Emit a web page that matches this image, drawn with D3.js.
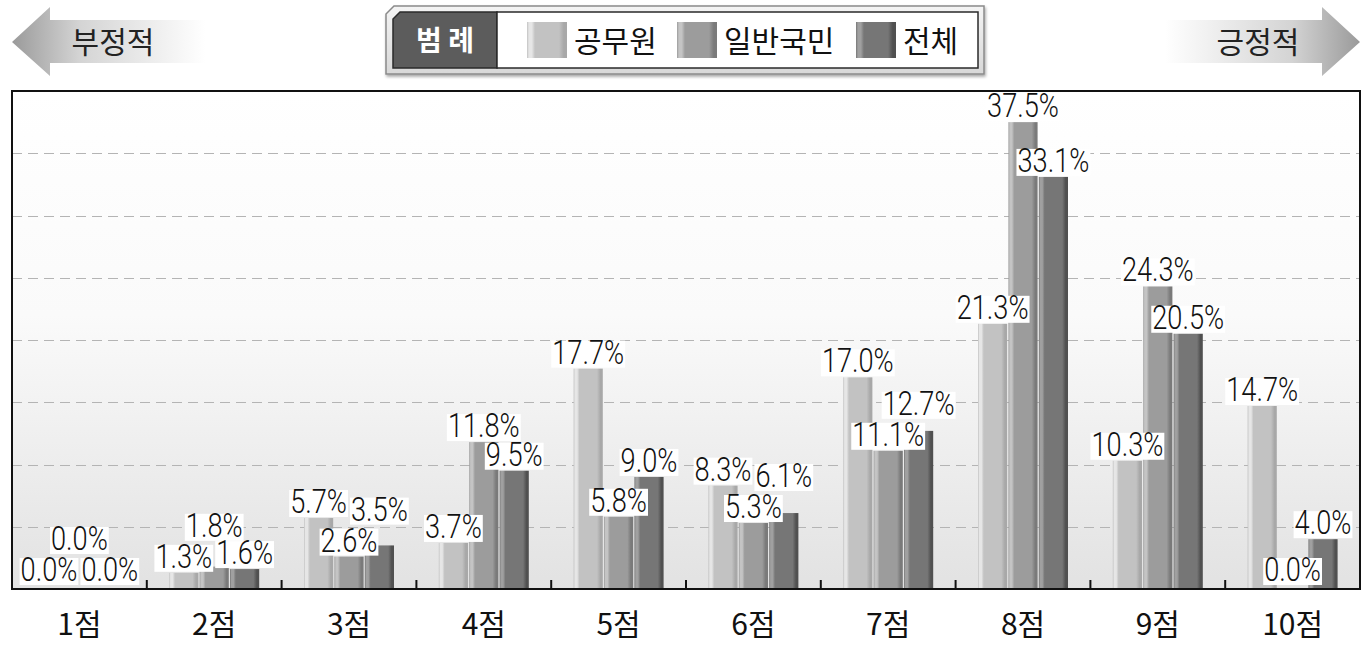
<!DOCTYPE html>
<html><head><meta charset="utf-8">
<script src="https://cdn.jsdelivr.net/npm/d3@7"></script>
<style>body{margin:0;background:#fff}svg{display:block}</style>
</head><body><svg id="c" width="1370" height="650"></svg>
<script>
const categories = ["1점","2점","3점","4점","5점","6점","7점","8점","9점","10점"];
const seriesNames = ["공무원","일반국민","전체"];
const civilServant = [0.0,1.3,5.7,3.7,17.7,8.3,17.0,21.3,10.3,14.7];
const generalPublic = [0.0,1.8,2.6,11.8,5.8,5.3,11.1,37.5,24.3,0.0];
const total = [0.0,1.6,3.5,9.5,9.0,6.1,12.7,33.1,20.5,4.0];
const yTicks = [0,5,10,15,20,25,30,35,40];
const leftArrowLabel = "부정적", rightArrowLabel = "긍정적", legendTitle = "범 례";

const seriesValues = [civilServant, generalPublic, total];
const svg = d3.select("#c");
const L = 12, R = 1360, T = 91, B = 589;
const KR = "'Noto Sans CJK KR','Noto Sans',sans-serif";
const NUM = "Roboto,'Liberation Sans',sans-serif";
const SX = 0.8;

const defs = svg.append("defs");
const bg = defs.append("linearGradient").attr("id","bg").attr("x1",0).attr("x2",0).attr("y1",0).attr("y2",1);
bg.append("stop").attr("offset",0).attr("stop-color","#ffffff");
bg.append("stop").attr("offset",0.45).attr("stop-color","#fafafa");
bg.append("stop").attr("offset",1).attr("stop-color","#e2e2e2");
const bases = [["#c2c2c2","#e6e6e6","#a8a8a8"],["#9c9c9c","#c4c4c4","#7a7a7a"],["#767676","#a0a0a0","#505050"]];
bases.forEach((b,i)=>{
  const g = defs.append("linearGradient").attr("id","bar"+i).attr("x1",0).attr("x2",1).attr("y1",0).attr("y2",0);
  [[0,b[0]],[0.05,b[1]],[0.12,b[1]],[0.2,b[0]],[0.8,b[0]],[0.92,b[2]],[1,b[2]]].forEach(s=>g.append("stop").attr("offset",s[0]).attr("stop-color",s[1]));
});
const la = defs.append("linearGradient").attr("id","la").attr("x1",0).attr("x2",1).attr("y1",0).attr("y2",0);
la.append("stop").attr("offset",0).attr("stop-color","#9a9a9a");
la.append("stop").attr("offset",0.35).attr("stop-color","#d4d4d4");
la.append("stop").attr("offset",1).attr("stop-color","#ffffff");
const ra = defs.append("linearGradient").attr("id","ra").attr("x1",0).attr("x2",1).attr("y1",0).attr("y2",0);
ra.append("stop").attr("offset",0).attr("stop-color","#ffffff");
ra.append("stop").attr("offset",0.65).attr("stop-color","#d4d4d4");
ra.append("stop").attr("offset",1).attr("stop-color","#9a9a9a");
const lg = defs.append("linearGradient").attr("id","lg").attr("x1",0).attr("x2",0).attr("y1",0).attr("y2",1);
lg.append("stop").attr("offset",0).attr("stop-color","#f4f4f4");
lg.append("stop").attr("offset",1).attr("stop-color","#d8d8d8");
const sh = defs.append("filter").attr("id","sh").attr("x","-5%").attr("y","-20%").attr("width","110%").attr("height","150%");
sh.append("feDropShadow").attr("dx",1).attr("dy",2).attr("stdDeviation",1.5).attr("flood-color","#000").attr("flood-opacity",0.35);

// arrows
svg.append("path").attr("d","M12,42 L50,7 L50,20 L205,20 L205,63 L50,63 L50,76 Z").attr("fill","url(#la)");
svg.append("text").attr("x",113).attr("y",53).attr("text-anchor","middle").attr("font-family",KR).attr("font-size",30).attr("fill","#222").text(leftArrowLabel);
svg.append("path").attr("d","M1360,42 L1322,7 L1322,20 L1165,20 L1165,63 L1322,63 L1322,76 Z").attr("fill","url(#ra)");
svg.append("text").attr("x",1258).attr("y",53).attr("text-anchor","middle").attr("font-family",KR).attr("font-size",30).attr("fill","#222").text(rightArrowLabel);

// legend
const lgG = svg.append("g");
lgG.append("path").attr("d","M394,6 L984,6 L984,74 L386,74 L386,14 Z").attr("fill","url(#lg)").attr("stroke","#8a8a8a").attr("stroke-width",1.5).attr("filter","url(#sh)");
lgG.append("path").attr("d","M400,12 L497,12 L497,68 L393,68 L393,19 Z").attr("fill","#5c5c5c").attr("stroke","#2a2a2a").attr("stroke-width",1.5);
lgG.append("rect").attr("x",497).attr("y",12).attr("width",481).attr("height",56).attr("fill","#fff").attr("stroke","#2a2a2a").attr("stroke-width",1.5);
lgG.append("text").attr("x",445).attr("y",51).attr("text-anchor","middle").attr("font-family",KR).attr("font-weight",700).attr("font-size",28).attr("fill","#fff").text(legendTitle);
const legX = [527, 677, 856];
seriesNames.forEach((n,i)=>{
  lgG.append("rect").attr("x",legX[i]).attr("y",22).attr("width",40).attr("height",36).attr("fill","url(#bar"+i+")");
  lgG.append("text").attr("x",legX[i]+47).attr("y",52).attr("font-family",KR).attr("font-size",30).attr("fill","#111").text(n);
});

// plot
svg.append("rect").attr("x",L).attr("y",T).attr("width",R-L).attr("height",B-T).attr("fill","url(#bg)");
const x = d3.scaleBand().domain(categories).range([L,R]).paddingInner(0).paddingOuter(0);
const x1 = d3.scaleBand().domain(seriesNames).range([0,90]).paddingInner(0.04);
const y = d3.scaleLinear().domain([0,40]).range([B,T]);
const off = (x.bandwidth()-90)/2;

svg.append("g").selectAll("line").data(yTicks.filter(t=>t>0&&t<40)).join("line")
  .attr("x1",L).attr("x2",R).attr("y1",d=>Math.round(y(d))+0.5).attr("y2",d=>Math.round(y(d))+0.5)
  .attr("stroke","#b4b4b4").attr("stroke-width",1).attr("stroke-dasharray","10,6");

const data = [];
categories.forEach((c,ci)=>seriesNames.forEach((s,si)=>data.push({c,s,si,v:seriesValues[si][ci]})));
svg.append("g").selectAll("rect").data(data).join("rect")
  .attr("x",d=>x(d.c)+off+x1(d.s)).attr("width",x1.bandwidth())
  .attr("y",d=>y(d.v)).attr("height",d=>B-y(d.v))
  .attr("fill",d=>"url(#bar"+d.si+")");

// axis
const ax = svg.append("g").attr("transform",`translate(0,${B})`).call(d3.axisBottom(x).tickSize(0).tickPadding(0));
ax.select(".domain").remove();
ax.selectAll("text").attr("dy",null).attr("y",46).attr("font-family",KR).attr("font-size",30).attr("fill","#111");
svg.append("g").selectAll("line").data(categories.slice(1)).join("line")
  .attr("x1",d=>x(d)).attr("x2",d=>x(d)).attr("y1",B).attr("y2",B-9).attr("stroke","#111").attr("stroke-width",2);
svg.append("rect").attr("x",L).attr("y",T).attr("width",R-L).attr("height",B-T).attr("fill","none").attr("stroke","#111").attr("stroke-width",2);

// labels with greedy collision avoidance
const H = 29, lab = svg.append("g");
categories.forEach(c=>{
  const placed = [];
  seriesNames.forEach((s,si)=>{
    const v = seriesValues[si][categories.indexOf(c)];
    const cx = x(c)+off+x1(s)+x1.bandwidth()/2;
    const g = lab.append("g");
    const t = g.append("text").attr("x",0).attr("y",0).attr("text-anchor","middle").attr("font-family",NUM).attr("font-weight",300).attr("font-size",34).attr("fill","#111").text(v.toFixed(1)+"%");
    const w = t.node().getComputedTextLength()*SX;
    let bottom = Math.min(y(v)-1, B-4);
    let moved = true;
    while (moved) {
      moved = false;
      for (const p of placed) {
        const hov = Math.min(cx+w/2, p.x2) - Math.max(cx-w/2, p.x1);
        const vov = Math.min(bottom, p.b) - Math.max(bottom-H, p.b-H);
        if (hov > 4 && vov > 2) { bottom = p.b - H - 2; moved = true; }
      }
    }
    placed.push({x1:cx-w/2,x2:cx+w/2,b:bottom});
    g.insert("rect","text").attr("x",cx-w/2-1).attr("y",bottom-H+2).attr("width",w+2).attr("height",H-2).attr("fill","#fff");
    t.attr("transform",`translate(${cx},${bottom-4}) scale(${SX},1)`);
  });
});
</script></body></html>
